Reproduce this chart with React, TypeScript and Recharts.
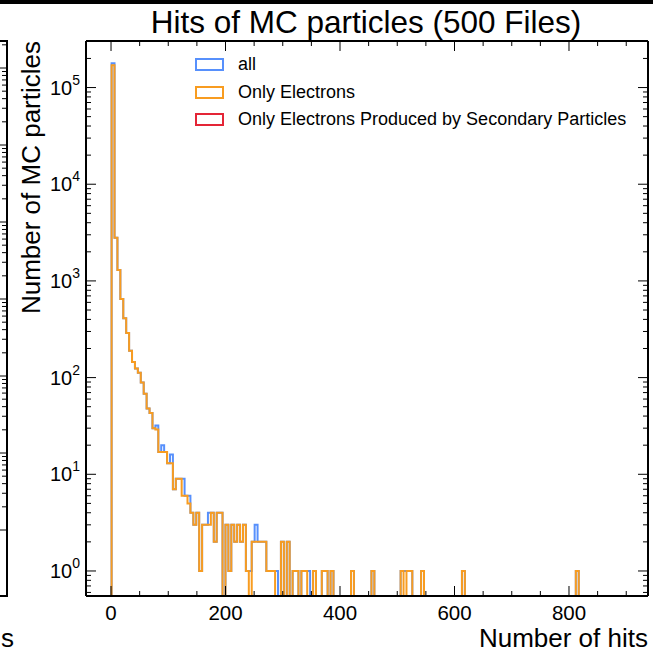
import React from "react";
import { LineChart, Line, XAxis, YAxis, Legend } from "recharts";

// histogram binning: 160 bins starting at 1 hit
const BIN_START = 1;
const BIN_WIDTH = 5.1;

// counts per bin (0 = empty bin)
const ALL_COUNTS = [
  178000, 2800, 1300, 650, 410, 290, 190, 145, 124, 112, 89, 68, 48, 43, 30, 32, 17, 20, 17, 13,
  16, 7, 9, 9, 9, 6, 6, 4, 3, 4, 1, 3, 3, 4, 4, 2, 4, 4, 0, 3,
  1, 3, 2, 3, 2, 3, 1, 1, 2, 3, 2, 2, 2, 1, 1, 1, 1, 0, 2, 0,
  2, 0, 1, 1, 0, 1, 1, 1, 0, 1, 0, 0, 1, 1, 0, 1, 0, 0, 0, 0,
  0, 0, 1, 0, 0, 0, 0, 0, 0, 1, 0, 0, 0, 0, 0, 0, 0, 0, 0, 1,
  1, 1, 1, 0, 0, 0, 1, 0, 0, 0, 0, 0, 0, 0, 0, 0, 0, 0, 0, 0,
  1, 0, 0, 0, 0, 0, 0, 0, 0, 0, 0, 0, 0, 0, 0, 0, 0, 0, 0, 0,
  0, 0, 0, 0, 0, 0, 0, 0, 0, 0, 0, 0, 0, 0, 0, 0, 0, 0, 0, 1,
];

const ELECTRON_COUNTS = [
  170000, 2800, 1300, 650, 410, 290, 190, 145, 124, 112, 89, 68, 48, 43, 30, 29, 17, 17, 17, 13,
  13, 7, 9, 9, 6, 6, 5, 4, 3, 4, 1, 3, 3, 3, 4, 2, 4, 4, 0, 3,
  1, 3, 2, 3, 2, 3, 1, 0, 2, 2, 2, 2, 2, 1, 1, 1, 0, 0, 2, 0,
  2, 0, 1, 1, 0, 1, 1, 0, 0, 1, 0, 0, 1, 1, 0, 1, 0, 0, 0, 0,
  0, 0, 1, 0, 0, 0, 0, 0, 0, 1, 0, 0, 0, 0, 0, 0, 0, 0, 0, 1,
  0, 1, 1, 0, 0, 0, 1, 0, 0, 0, 0, 0, 0, 0, 0, 0, 0, 0, 0, 0,
  1, 0, 0, 0, 0, 0, 0, 0, 0, 0, 0, 0, 0, 0, 0, 0, 0, 0, 0, 0,
  0, 0, 0, 0, 0, 0, 0, 0, 0, 0, 0, 0, 0, 0, 0, 0, 0, 0, 0, 1,
];

const X_MAJOR = [0, 200, 400, 600, 800];
const X_TICKS = [0, 50, 100, 150, 200, 250, 300, 350, 400, 450, 500, 550, 600, 650, 700, 750, 800, 850, 900];
const Y_MAJOR = [1, 10, 100, 1000, 10000, 100000];
const Y_TICKS = [
  0.6, 0.7, 0.8, 0.9,
  1, 2, 3, 4, 5, 6, 7, 8, 9,
  10, 20, 30, 40, 50, 60, 70, 80, 90,
  100, 200, 300, 400, 500, 600, 700, 800, 900,
  1000, 2000, 3000, 4000, 5000, 6000, 7000, 8000, 9000,
  10000, 20000, 30000, 40000, 50000, 60000, 70000, 80000, 90000,
  100000, 200000, 300000,
];

const SERIES = [
  { key: "all", name: "all", color: "#5790fc" },
  { key: "ele", name: "Only Electrons", color: "#f89c20" },
  { key: "sec", name: "Only Electrons Produced by Secondary Particles", color: "#e42536" },
];

const FONT = '"Liberation Sans", Arial, Helvetica, sans-serif';
const EMPTY = 0.05; // below the axis floor, so empty bins drop out of view
const X_DOMAIN = [-43.7, 938];
const Y_DOMAIN = [0.551, 303000];

const edge = (i: number) => BIN_START + BIN_WIDTH * i;
const lift = (c: number) => (c > 0 ? c : EMPTY);

// step outline like histtype="step": up from the floor, across every bin, back down
const n = ALL_COUNTS.length;
const data: { x: number; all: number; ele: number }[] = [{ x: edge(0), all: EMPTY, ele: EMPTY }];
ALL_COUNTS.forEach((c, i) => data.push({ x: edge(i), all: lift(c), ele: lift(ELECTRON_COUNTS[i]) }));
data.push({ x: edge(n), all: lift(ALL_COUNTS[n - 1]), ele: lift(ELECTRON_COUNTS[n - 1]) });
data.push({ x: edge(n), all: EMPTY, ele: EMPTY });

const W = 653;
const H = 653;

function YTickLeft({ x, y, payload }: any) {
  const v = payload.value;
  const major = Y_MAJOR.includes(v);
  return (
    <g>
      <line x1={x} x2={x + (major ? 10 : 5)} y1={y} y2={y} stroke="#000" strokeWidth={1} />
      {major && (
        <text x={x - 6} y={y + 7} textAnchor="end" fontSize={20} fontFamily={FONT} fill="#000">
          10<tspan dy={-10} fontSize={14}>{Math.round(Math.log10(v))}</tspan>
        </text>
      )}
    </g>
  );
}

function YTickRight({ x, y, payload }: any) {
  const major = Y_MAJOR.includes(payload.value);
  return <line x1={x} x2={x - (major ? 10 : 5)} y1={y} y2={y} stroke="#000" strokeWidth={1} />;
}

function XTickBottom({ x, y, payload }: any) {
  const v = payload.value;
  const major = X_MAJOR.includes(v);
  return (
    <g>
      <line x1={x} x2={x} y1={y} y2={y - (major ? 10 : 5)} stroke="#000" strokeWidth={1} />
      {major && (
        <text x={x} y={y + 24} textAnchor="middle" fontSize={20.5} fontFamily={FONT} fill="#000">
          {v}
        </text>
      )}
    </g>
  );
}

function XTickTop({ x, y, payload }: any) {
  const major = X_MAJOR.includes(payload.value);
  return <line x1={x} x2={x} y1={y} y2={y + (major ? 10 : 5)} stroke="#000" strokeWidth={1} />;
}

function LegendBox() {
  return (
    <div style={{ fontFamily: FONT, fontSize: 18, color: "#000" }}>
      {SERIES.map(s => (
        <div key={s.key} style={{ display: "flex", alignItems: "center", height: 27.5 }}>
          <div style={{ width: 25, height: 9, border: `2px solid ${s.color}`, marginRight: 14 }} />
          <span style={{ whiteSpace: "nowrap" }}>{s.name}</span>
        </div>
      ))}
    </div>
  );
}

// right-hand edge of the neighbouring panel that the screenshot cut into
function NeighbourEdge() {
  const ticks: JSX.Element[] = [];
  for (let k = 0; k < 7; k++) {
    const base = 530 - 77 * k;
    ticks.push(<line key={`M${k}`} x1={7} x2={-3} y1={base} y2={base} stroke="#000" strokeWidth={1} />);
    for (let m = 2; m < 10; m++) {
      const yy = base - 77 * Math.log10(m);
      if (yy > 42) ticks.push(<line key={`m${k}${m}`} x1={7} x2={2} y1={yy} y2={yy} stroke="#000" strokeWidth={1} />);
    }
  }
  return (
    <g>
      <rect x={0} y={0} width={W} height={4} fill="#000" />
      <polyline points="0,41 7,41 7,596 0,596" fill="none" stroke="#000" strokeWidth={2} />
      {ticks}
      <text x={1} y={647} fontSize={26} fontFamily={FONT}>s</text>
    </g>
  );
}

export default function App() {
  return (
    <div style={{ position: "absolute", left: 0, top: 0, width: W, height: H, background: "#fff" }}>
      <LineChart width={W} height={H} data={data} margin={{ top: 40, right: 4, bottom: 56, left: 85 }}>
        <XAxis
          dataKey="x" type="number" domain={X_DOMAIN} allowDataOverflow
          ticks={X_TICKS} interval={0} height={1} tickSize={0} tickMargin={0}
          axisLine={{ stroke: "#000", strokeWidth: 2 }} tick={<XTickBottom />}
        />
        <XAxis
          xAxisId="top" orientation="top" dataKey="x" type="number" domain={X_DOMAIN} allowDataOverflow
          ticks={X_TICKS} interval={0} height={1} tickSize={0} tickMargin={0}
          axisLine={{ stroke: "#000", strokeWidth: 2 }} tick={<XTickTop />}
        />
        <YAxis
          scale="log" type="number" domain={Y_DOMAIN} allowDataOverflow
          ticks={Y_TICKS} interval={0} width={1} tickSize={0} tickMargin={0}
          axisLine={{ stroke: "#000", strokeWidth: 2 }} tick={<YTickLeft />}
        />
        <YAxis
          yAxisId="right" orientation="right" scale="log" type="number" domain={Y_DOMAIN} allowDataOverflow
          ticks={Y_TICKS} interval={0} width={1} tickSize={0} tickMargin={0}
          axisLine={{ stroke: "#000", strokeWidth: 2 }} tick={<YTickRight />}
        />
        <Legend
          layout="horizontal" verticalAlign="middle" align="center"
          wrapperStyle={{ position: "absolute", top: 51, left: 195, width: 440, height: 85 }}
          content={() => <LegendBox />}
        />
        <Line dataKey="all" name="all" type="stepAfter" stroke={SERIES[0].color} strokeWidth={2} dot={false} isAnimationActive={false} />
        <Line dataKey="ele" name="Only Electrons" type="stepAfter" stroke={SERIES[1].color} strokeWidth={2} dot={false} isAnimationActive={false} />
      </LineChart>
      <svg width={W} height={H} style={{ position: "absolute", left: 0, top: 0, pointerEvents: "none" }}>
        <NeighbourEdge />
        <text x={366} y={33} textAnchor="middle" fontSize={31.5} fontFamily={FONT}>Hits of MC particles (500 Files)</text>
        <text transform="translate(40, 41) rotate(-90)" textAnchor="end" fontSize={26} fontFamily={FONT}>Number of MC particles</text>
        <text x={648} y={647} textAnchor="end" fontSize={26} fontFamily={FONT}>Number of hits</text>
      </svg>
    </div>
  );
}
